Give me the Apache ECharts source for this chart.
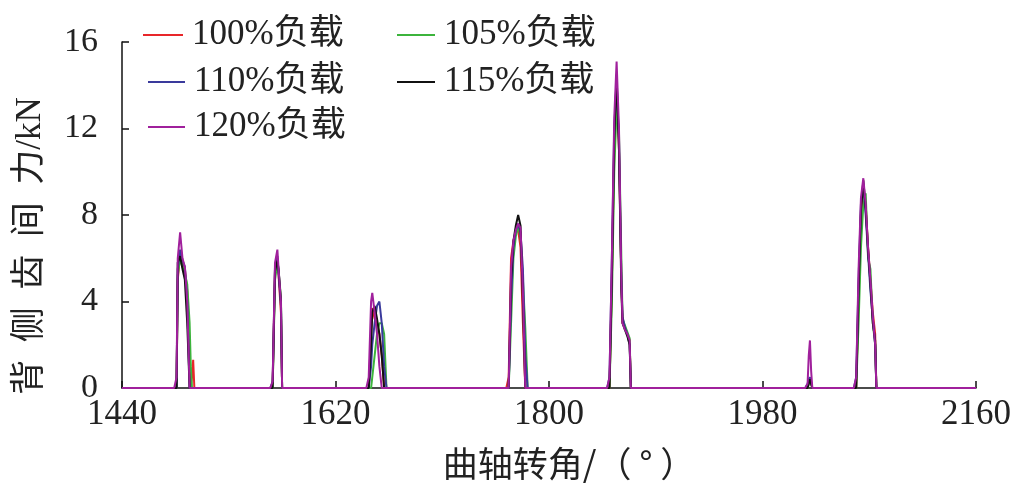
<!DOCTYPE html>
<html>
<head>
<meta charset="utf-8">
<script src="https://cdn.jsdelivr.net/npm/echarts@6/dist/echarts.min.js"></script>
<style>html,body{margin:0;padding:0;background:#fff}#c{width:1025px;height:491px}</style>
</head>
<body>
<div id="c"></div>
<script>
// Crank angle samples (degrees), baseline endpoints plus points around each force peak
const angles = [1440,
  1484,1486,1487,1489,1491,1493,1495,1497,1498,1499,1500,1501,1503,
  1565,1567,1569,1571,1572,1574,1575,1577,
  1646,1648,1650,1651,1653,1655,1657,1659,1661,1663,1665,
  1764,1766,1768,1770,1772,1774,1776,1778,1780,1782,1784,
  1849,1851,1853,1855,1857,1859,1861,1862,1864,1866,1868,1869,1871,
  2016,2018,2019,2020,2021,2022,2024,
  2057,2059,2061,2063,2065,2067,2069,2071,2073,2075,2076,2078,
  2160];
const seriesNames = ['100%负载','105%负载','110%负载','115%负载','120%负载'];
const load100 = [0,
  0,0,5.0,6.2,5.8,5.5,4.5,2.0,0,0.5,1.3,0,0,
  0,0.2,5.5,6.0,5.2,3.5,0,0,
  0,0,2.5,3.7,3.2,3.0,2.5,1.5,0,0,0,
  0,0.5,6.0,6.8,7.2,7.3,6.5,3.0,0,0,0,
  0,0,5.0,11.0,14.0,11.0,5.0,3.0,2.8,2.5,2.2,0,0,
  0,0,0.3,0.4,0.2,0,0,
  0,0,4.0,8.0,9.2,8.5,6.5,5.0,3.5,2.5,0,0,
  0];
const load105 = [0,
  0,0,5.2,6.0,5.6,5.3,4.8,3.0,1.0,0,0,0,0,
  0,0,5.0,5.8,5.4,4.2,0,0,
  0,0,0,0.5,1.5,2.5,3.0,3.0,2.5,0,0,
  0,0,3.0,6.0,7.0,7.5,7.0,5.0,2.8,0,0,
  0,0,4.0,10.0,13.0,11.8,6.0,3.2,2.9,2.6,2.3,0,0,
  0,0,0.2,0.3,0.2,0,0,
  0,0,3.0,6.5,8.5,9.0,6.0,5.5,3.0,2.0,0,0,
  0];
const load110 = [0,
  0,0,5.5,6.4,5.9,5.6,4.0,0,0,0,0,0,0,
  0,0.3,5.6,6.1,5.3,3.8,0,0,
  0,0,1.0,2.0,3.0,3.8,4.0,3.0,1.0,0,0,
  0,0,4.0,6.5,7.3,7.6,7.2,5.5,1.5,0,0,
  0,0.5,6.0,12.0,14.2,11.5,5.0,3.3,2.8,2.5,2.0,0,0,
  0,0.2,0.4,0.5,0.3,0,0,
  0,0.5,5.0,8.5,9.4,8.0,6.2,4.5,3.2,2.0,0,0,
  0];
const load115 = [0,
  0,0,5.8,6.1,5.5,5.0,3.0,0,0,0,0,0,0,
  0,0,5.4,5.9,5.5,4.0,0,0,
  0,0,2.0,3.5,3.8,3.2,2.5,1.5,0,0,0,
  0,0,5.0,6.8,7.5,8.0,7.5,4.0,0,0,0,
  0,0,5.0,11.5,14.5,11.0,4.5,3.0,2.7,2.4,2.0,0,0,
  0,0,0.2,0.4,0.2,0,0,
  0,0,4.5,8.2,9.6,8.3,6.4,4.8,3.0,2.2,0,0,
  0];
const load120 = [0,
  0,0.5,6.0,7.2,6.0,5.6,4.0,0,0,0,0,0,0,
  0,0.3,5.8,6.4,5.5,4.0,0,0,
  0,0.5,4.0,4.4,3.5,2.5,1.0,0,0,0,0,
  0,0,5.5,6.8,7.3,7.6,7.4,4.5,0,0,0,
  0,0.5,6.0,12.5,15.1,12.0,5.0,3.0,2.7,2.5,2.2,0,0,
  0,0.2,1.5,2.2,0.8,0,0,
  0,0.5,5.5,8.8,9.7,8.5,6.5,5.0,3.3,2.0,0,0,
  0];
const xTicks = [1440,1620,1800,1980,2160];
const yTicks = [0,4,8,12,16];

const colors = ['#e8262a','#3cb43c','#3a3a9c','#111111','#a0209c'];
const values = [load100,load105,load110,load115,load120];
const FONT = "'Liberation Serif','Noto Sans CJK SC',serif";
const CJK = "'Noto Sans CJK SC','Liberation Serif',sans-serif";

const legendPos = [
  {left:143, top:17, w:40}, {left:397, top:17, w:38},
  {left:148, top:64, w:37}, {left:397, top:64, w:38},
  {left:148, top:109, w:37}
];

const chart = echarts.init(document.getElementById('c'), null, {renderer:'canvas'});
chart.setOption({
  animation:false,
  backgroundColor:'#fff',
  grid:{left:122, right:49, top:42, bottom:103, containLabel:false},
  legend: seriesNames.map((n,i)=>({
    data:[n], left:legendPos[i].left, top:legendPos[i].top,
    icon:'rect', itemWidth:legendPos[i].w, itemHeight:2, itemGap:0,
    textStyle:{fontFamily:FONT, fontSize:35, lineHeight:36, color:'#222', padding:[0,0,0,4]},
    padding:0
  })),
  xAxis:{
    type:'value', min:xTicks[0], max:xTicks[xTicks.length-1], interval:180,
    name:'曲轴转角/（ ° ）', nameLocation:'middle', nameGap:58,
    nameTextStyle:{fontFamily:CJK, fontSize:35, color:'#222', padding:[0,0,0,40]},
    axisLine:{lineStyle:{color:'#111', width:1.5}},
    axisTick:{inside:true, length:7, lineStyle:{color:'#111', width:1.5}},
    axisLabel:{fontFamily:FONT, fontSize:35, color:'#222', margin:9, formatter:(v)=>String(v)},
    splitLine:{show:false}
  },
  yAxis:{
    type:'value', min:yTicks[0], max:yTicks[yTicks.length-1], interval:4,
    name:'背\u2002侧\u2002齿\u2002间\u2002力/kN', nameLocation:'middle', nameGap:74, nameRotate:90,
    nameTextStyle:{fontFamily:FONT, fontSize:35, color:'#222', padding:[0,62,0,0]},
    axisLine:{show:true, lineStyle:{color:'#111', width:1.5}},
    axisTick:{show:true, inside:true, length:7, lineStyle:{color:'#111', width:1.5}},
    axisLabel:{fontFamily:FONT, fontSize:34, color:'#222', margin:24},
    splitLine:{show:false}
  },
  series: seriesNames.map((n,i)=>({
    name:n, type:'line', symbol:'none', color:colors[i],
    lineStyle:{width:2, color:colors[i]},
    data: angles.map((a,k)=>[a, values[i][k]]),
    z: 2+i
  }))
});
</script>
</body>
</html>
